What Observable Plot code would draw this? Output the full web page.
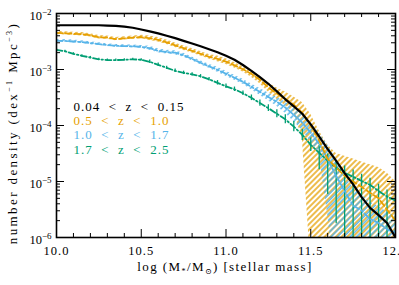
<!DOCTYPE html>
<html><head><meta charset="utf-8">
<script src="https://cdn.jsdelivr.net/npm/d3@7"></script>
<script src="https://cdn.jsdelivr.net/npm/@observablehq/plot@0.6"></script>
<style>
body{margin:0;background:#fff}
svg{display:block}
svg text, svg tspan{font-family:"Liberation Serif","Times New Roman","DejaVu Serif",serif !important}
</style>
</head><body><div id="chart"></div>
<script>
const mass = [10.00,10.05,10.10,10.15,10.20,10.25,10.30,10.35,10.40,10.45,10.50,10.55,10.60,10.65,10.70,10.75,10.80,10.85,10.90,10.95,11.00,11.05,11.10,11.15,11.20,11.25,11.30,11.35,11.40,11.45,11.50,11.55,11.60,11.65,11.70,11.75,11.80,11.85,11.90,11.95,12.00];
// log10 number density
const zLow = [-2.21,-2.21,-2.21,-2.21,-2.21,-2.21,-2.215,-2.22,-2.235,-2.255,-2.285,-2.318,-2.355,-2.398,-2.44,-2.488,-2.535,-2.586,-2.638,-2.693,-2.755,-2.827,-2.92,-3.023,-3.135,-3.255,-3.39,-3.532,-3.66,-3.79,-3.98,-4.2,-4.42,-4.63,-4.85,-5.05,-5.28,-5.47,-5.6,-5.74,-6.0];
const z05 = [-2.345,-2.354,-2.363,-2.37,-2.39,-2.425,-2.43,-2.457,-2.443,-2.43,-2.42,-2.443,-2.47,-2.514,-2.568,-2.62,-2.666,-2.72,-2.773,-2.81,-2.86,-2.925,-2.996,-3.077,-3.184,-3.32,-3.43,-3.523,-3.63,-3.77,-4.0,-4.27,-4.6,-4.75,-4.9,-5.0,-5.1,-5.2,-5.3,-5.5,-5.7];
const z05Up = [0.03,0.03,0.03,0.03,0.03,0.03,0.03,0.03,0.03,0.03,0.03,0.04,0.04,0.04,0.04,0.04,0.04,0.04,0.04,0.05,0.05,0.05,0.05,0.06,0.07,0.08,0.1,0.12,0.14,0.18,0.2,0.17,0.25,0.25,0.35,0.4,0.45,0.5,0.55,0.65,0.7];
const z05Dn = [0.03,0.03,0.03,0.03,0.03,0.03,0.03,0.03,0.03,0.03,0.03,0.04,0.04,0.04,0.04,0.04,0.04,0.04,0.04,0.05,0.05,0.05,0.05,0.06,0.07,0.08,0.1,0.12,0.14,0.45,2.5,2.5,2.5,2.5,2.5,2.5,2.5,2.5,2.5,2.5,2.5];
const z10 = [-2.488,-2.49,-2.5,-2.51,-2.53,-2.546,-2.564,-2.577,-2.582,-2.586,-2.595,-2.62,-2.666,-2.69,-2.7,-2.746,-2.81,-2.88,-2.943,-3.005,-3.077,-3.148,-3.22,-3.31,-3.4,-3.49,-3.577,-3.68,-3.81,-3.95,-4.13,-4.33,-4.6,-4.9,-5.17,-5.43,-5.52,-5.67,-5.74,-5.85,-5.92];
const z10Up = [0.025,0.025,0.025,0.025,0.025,0.025,0.025,0.025,0.025,0.025,0.025,0.035,0.035,0.035,0.035,0.035,0.035,0.035,0.035,0.045,0.045,0.045,0.045,0.05,0.06,0.07,0.08,0.1,0.12,0.14,0.17,0.2,0.25,0.3,0.3,0.3,0.3,0.3,0.3,0.3,0.3];
const z10Dn = [0.025,0.025,0.025,0.025,0.025,0.025,0.025,0.025,0.025,0.025,0.025,0.035,0.035,0.035,0.035,0.035,0.035,0.035,0.035,0.045,0.045,0.045,0.045,0.05,0.06,0.07,0.08,0.1,0.12,0.14,0.17,0.2,1.0,2.0,2.0,2.0,2.0,2.0,2.0,2.0,2.0];
const z17 = [-2.648,-2.675,-2.72,-2.755,-2.786,-2.818,-2.832,-2.832,-2.827,-2.818,-2.827,-2.862,-2.916,-2.97,-3.023,-3.06,-3.086,-3.121,-3.175,-3.2375,-3.3,-3.353,-3.425,-3.505,-3.6,-3.69,-3.79,-3.89,-4.02,-4.166,-4.345,-4.49,-4.63,-4.755,-4.845,-4.916,-4.99,-5.06,-5.17,-5.27,-5.34];
const z17Up = [0.02,0.02,0.02,0.02,0.02,0.02,0.02,0.02,0.02,0.02,0.02,0.03,0.03,0.03,0.03,0.03,0.03,0.03,0.03,0.04,0.04,0.04,0.04,0.05,0.055,0.06,0.07,0.08,0.09,0.1,0.12,0.14,0.12,0.12,0.12,0.12,0.12,0.12,0.12,0.12,0.12];
const z17Dn = [0.02,0.02,0.02,0.02,0.02,0.02,0.02,0.02,0.02,0.02,0.02,0.03,0.03,0.03,0.03,0.03,0.03,0.03,0.03,0.04,0.04,0.04,0.04,0.05,0.055,0.06,0.07,0.08,0.09,0.1,0.12,0.3,0.6,1.0,2.0,2.0,2.0,2.0,2.0,2.0,2.0];

const legendLabels = ["0.04  <  z  <  0.15", "0.5  <  z  <  1.0", "1.0  <  z  <  1.7", "1.7  <  z  <  2.5"];
const colors = ["#000000", "#E69F00", "#56B4E9", "#009E73"];
const xMajor = [10, 10.5, 11, 11.5, 12];
const xMinor = [10.1,10.2,10.3,10.4,10.6,10.7,10.8,10.9,11.1,11.2,11.3,11.4,11.6,11.7,11.8,11.9];
const yMajor = [1e-6, 1e-5, 1e-4, 1e-3, 1e-2];
const yMinor = yMajor.slice(0, 4).flatMap(d => [2,3,4,5,6,7,8,9].map(k => k * d));

const FONT = "'Liberation Serif', 'Times New Roman', 'DejaVu Serif', serif";
const W = 399, H = 285, mL = 56, mR = 4, mT = 13, mB = 48;
const pW = W - mL - mR, pH = H - mT - mB;

function rows(vals, up, dn) {
  return mass.map((m, i) => ({m, v: 10 ** vals[i],
    hi: up ? 10 ** (vals[i] + up[i]) : null, lo: dn ? 10 ** (vals[i] - dn[i]) : null}));
}
const rLow = rows(zLow), r05 = rows(z05, z05Up, z05Dn), r10 = rows(z10, z10Up, z10Dn), r17 = rows(z17, z17Up, z17Dn);
const nbsp = s => s.replace(/ /g, "\u00A0");

const plot = Plot.plot({
  width: W, height: H, marginLeft: mL, marginRight: mR, marginTop: mT, marginBottom: mB,
  style: {fontFamily: FONT, fontSize: "12px", background: "#fff", color: "#000"},
  x: {domain: [10, 12]},
  y: {type: "log", domain: [1e-6, 1e-2]},
  marks: [
    Plot.areaY(r05, {x: "m", y1: "lo", y2: "hi", fill: "url(#hatchO)", clip: true}),
    Plot.areaY(r10, {x: "m", y1: "lo", y2: "hi", fill: "url(#hatchB)", clip: true}),
    Plot.ruleX(r17, {x: "m", y1: "lo", y2: "hi", stroke: colors[3], strokeWidth: 1.3, clip: true}),
    Plot.lineY(r17, {x: "m", y: "v", stroke: colors[3], strokeWidth: 1.8, strokeDasharray: "6,2.5,1.5,2.5", clip: true}),
    Plot.lineY(r10, {x: "m", y: "v", stroke: colors[2], strokeWidth: 1.8, strokeDasharray: "6,2.5,2,2.5", clip: true}),
    Plot.lineY(r05, {x: "m", y: "v", stroke: colors[1], strokeWidth: 1.8, strokeDasharray: "6,3", clip: true}),
    Plot.lineY(rLow, {x: "m", y: "v", stroke: colors[0], strokeWidth: 2.2, clip: true}),
    Plot.frame({stroke: "#000", strokeWidth: 1.6}),
    Plot.tickX(xMajor, {x: d => d, insetTop: pH - 8, stroke: "#000"}),
    Plot.tickX(xMinor, {x: d => d, insetTop: pH - 4, stroke: "#000"}),
    Plot.tickX(xMajor, {x: d => d, insetBottom: pH - 8, stroke: "#000"}),
    Plot.tickX(xMinor, {x: d => d, insetBottom: pH - 4, stroke: "#000"}),
    Plot.tickY(yMajor, {y: d => d, insetRight: pW - 8, stroke: "#000"}),
    Plot.tickY(yMinor, {y: d => d, insetRight: pW - 4, stroke: "#000"}),
    Plot.tickY(yMajor, {y: d => d, insetLeft: pW - 8, stroke: "#000"}),
    Plot.tickY(yMinor, {y: d => d, insetLeft: pW - 4, stroke: "#000"}),
    Plot.axisX(xMajor, {tickSize: 0, tickPadding: 9, label: null, tickFormat: d3.format(".1f"), fontSize: 12.5}),
    Plot.axisY(yMajor, {tickSize: 0, tickPadding: 5, label: null, dy: 2, tickFormat: d => String(Math.round(Math.log10(d))), fontSize: 12.5}),
    ...legendLabels.map((t, i) => Plot.text([nbsp(t)], {text: d => d, frameAnchor: "top-left", textAnchor: "start", lineAnchor: "middle", dx: 17, dy: 93 + i * 14.4, fill: colors[i], fontSize: 13}))
  ]
});

const svg = d3.select(plot);
svg.insert("defs", ":first-child").html(
  '<pattern id="hatchO" patternUnits="userSpaceOnUse" width="4" height="4" patternTransform="rotate(45)"><line x1="1" y1="0" x2="1" y2="4" stroke="#E69F00" stroke-width="1.4"/></pattern>' +
  '<pattern id="hatchB" patternUnits="userSpaceOnUse" width="4.5" height="4.5" patternTransform="rotate(45)"><line x1="1" y1="0" x2="1" y2="4.5" stroke="#56B4E9" stroke-width="1.4"/></pattern>'
);
svg.selectAll('[aria-label="y-axis tick label"] text').each(function() {
  const e = d3.select(this);
  const p = e.text().replace("\u2212", "-");
  e.text("");
  e.append("tspan").text("10");
  e.append("tspan").attr("dy", "-0.45em").attr("font-size", "9px").text("\u2212" + p.replace("-", ""));
});
svg.selectAll('[aria-label="x-axis tick label"] text, [aria-label="text"] text').style("letter-spacing", "1px");

const xl = svg.append("text").attr("x", 225).attr("y", 271).attr("text-anchor", "middle")
  .attr("font-family", FONT).attr("font-size", 13).style("letter-spacing", "1.4px");
xl.append("tspan").text("log (M");
xl.append("tspan").attr("font-size", 8).attr("dy", 3).text("*");
xl.append("tspan").attr("dy", -3).text("/M");
xl.append("tspan").attr("font-size", 8).attr("dy", 3).text("\u2299");
xl.append("tspan").attr("dy", -3).text(") [stellar mass]");

const yl = svg.append("text").attr("transform", "translate(17,133) rotate(-90)").attr("text-anchor", "middle")
  .attr("font-family", FONT).attr("font-size", 13).style("letter-spacing", "2.4px");
yl.append("tspan").text("number density (dex");
yl.append("tspan").attr("font-size", 8).attr("dy", -5).text("\u22121");
yl.append("tspan").attr("dy", 5).text(" Mpc");
yl.append("tspan").attr("font-size", 8).attr("dy", -5).text("\u22123");
yl.append("tspan").attr("dy", 5).text(")");

document.getElementById("chart").appendChild(plot);
</script></body></html>
